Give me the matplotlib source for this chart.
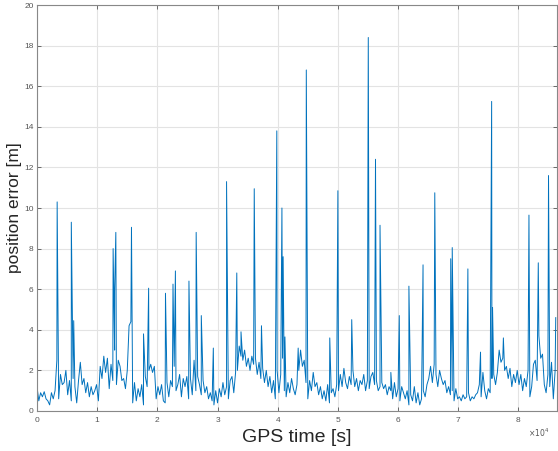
import numpy as np
import matplotlib
matplotlib.use("Agg")
import matplotlib.pyplot as plt
from matplotlib.ticker import FuncFormatter, MultipleLocator

plt.rcParams['font.family'] = ['Liberation Sans', 'DejaVu Sans']

# background error, one value every 300 s, one row per hour
step = 300
base_err = [
    1.2, 0.5, 0.9, 0.7, 0.95, 0.6, 0.5, 0.3, 0.9, 0.6, 1.0, 2.5,
    0.6, 1.8, 1.3, 1.4, 2.0, 0.8, 1.5, 0.5, 1.6, 1.2, 0.4, 1.5,
    2.4, 1.3, 1.6, 0.9, 1.4, 0.7, 1.2, 0.8, 1.0, 1.3, 0.5, 2.2,
    1.6, 2.7, 1.9, 2.6, 1.1, 2.3, 1.5, 3.0, 1.3, 2.5, 2.2, 1.5,
    1.6, 1.1, 2.0, 4.2, 4.4, 0.4, 1.4, 0.5, 1.1, 0.7, 1.3, 0.3,
    1.7, 1.2, 2.0, 2.3, 1.9, 2.2, 0.6, 1.2, 0.8, 1.3, 0.5, 0.4,
    1.4, 0.7, 1.5, 1.2, 2.2, 1.0, 1.3, 1.8, 0.7, 1.6, 1.2, 1.7,
    0.6, 1.6, 0.8, 2.5, 1.0, 1.7, 1.3, 0.8, 1.5, 0.9, 1.2, 0.6,
    0.9, 0.5, 0.3, 1.0, 0.4, 1.1, 0.7, 1.4, 0.8, 1.2, 0.6, 1.5,
    1.7, 0.9, 1.9, 2.0, 3.2, 2.7, 2.5, 3.0, 2.2, 2.6, 2.0, 2.7,
    2.3, 2.6, 1.8, 2.4, 1.6, 2.1, 1.4, 2.0, 1.2, 1.7, 0.9, 1.5,
    0.6, 2.0, 0.9, 1.8, 2.6, 1.0, 0.7, 1.4, 0.9, 1.6, 1.1, 0.8,
    1.3, 2.0, 3.0, 2.2, 2.5, 1.4, 0.6, 1.5, 1.0, 1.9, 1.2, 1.4,
    0.8, 1.2, 0.6, 1.0, 0.5, 1.3, 0.4, 0.9, 1.1, 0.7, 1.3, 1.0,
    1.8, 1.2, 2.1, 1.4, 1.1, 1.7, 1.3, 2.0, 1.2, 1.6, 1.0, 1.5,
    1.3, 1.8, 1.0, 1.5, 1.1, 1.7, 1.9, 1.3, 1.5, 1.0, 1.2, 1.4,
    1.1, 1.3, 0.8, 1.2, 1.0, 0.6, 1.4, 0.7, 1.1, 0.5, 1.2, 0.9,
    0.6, 1.0, 0.3, 0.8, 0.5, 1.2, 0.4, 0.9, 0.3, 0.6, 1.0, 0.7,
    1.3, 1.6, 2.2, 1.4, 2.3, 1.8, 1.2, 2.0, 1.6, 1.3, 1.5, 0.9,
    1.2, 0.8, 1.0, 0.5, 1.1, 0.6, 0.7, 0.5, 0.8, 0.6, 0.7, 0.9,
    0.5, 0.7, 0.6, 0.8, 0.9, 1.3, 0.7, 1.9, 1.0, 0.6, 1.1, 0.9,
    1.6, 1.8, 1.3, 1.9, 3.0, 2.4, 2.6, 2.0, 2.2, 1.6, 2.1, 1.2,
    1.8, 1.4, 2.0, 1.3, 1.8, 1.0, 1.6, 1.2, 2.0, 0.7, 1.2, 2.3,
    2.5, 1.5, 3.7, 2.6, 2.8, 1.3, 0.9, 1.8, 1.2, 2.4, 0.6, 2.0,
]

# isolated peaks: time [s] and error [m]
spike_t = [3350, 5700, 6100, 12650, 12900, 13100, 15700, 17700, 18550,
           21350, 22600, 23000, 25250, 26450, 27300, 29300, 31500, 33200,
           33900, 36100, 37300, 39850, 40700, 40900, 41200, 43400, 44750,
           48650, 50000, 52300, 55050, 56250, 57000, 58800, 60200, 61800,
           64150, 66100, 68750, 69000, 71600, 73700, 75550, 75700, 77500,
           81750, 83300, 85000, 86200]
spike_v = [10.3, 9.3, 4.45, 8.0, 5.9, 8.8, 9.05, 3.8, 6.05,
           5.8, 6.25, 6.9, 6.4, 8.8, 4.7, 3.1, 11.3, 6.8,
           3.9, 10.95, 4.2, 13.8, 10.0, 7.6, 3.65, 3.1, 16.8,
           3.6, 10.85, 4.5, 18.4, 12.4, 9.15, 1.9, 4.7, 6.15,
           7.2, 10.75, 7.5, 8.05, 7.0, 2.9, 15.25, 5.1, 3.6,
           9.65, 7.3, 11.6, 4.6]

t = np.concatenate([np.arange(len(base_err)) * step, spike_t])
err = np.concatenate([base_err, spike_v])
order = np.argsort(t, kind="stable")
t = t[order]
err = err[order]

fig = plt.figure(figsize=(5.58, 4.51), dpi=100)
ax = fig.add_axes([0.0663, 0.0887, 0.9318, 0.9002])
ax.plot(t, err, color="#0072BD", linewidth=0.7)

ax.set_xlim(0, 86400)
ax.set_ylim(0, 20)
ax.xaxis.set_major_locator(MultipleLocator(10000))
ax.yaxis.set_major_locator(MultipleLocator(2))
ax.xaxis.set_major_formatter(FuncFormatter(lambda v, p: f"{v/1e4:g}"))
ax.grid(True, color="#e3e3e3", linewidth=0.8)
ax.set_axisbelow(True)
ax.tick_params(direction="in", top=True, right=True, labelsize=6,
               colors="#555555", length=3, width=0.6)
ax.tick_params(axis="y", pad=2.5)
ax.tick_params(axis="x", pad=4)
for s in ax.spines.values():
    s.set_color("#888888")
    s.set_linewidth(0.8)

fig.text(297 / 558, 1 - 437 / 451, "GPS time [s]", fontsize=14,
         color="#262626", ha="center", va="center")
fig.text(15 / 558, 1 - 208 / 451, "position error [m]", fontsize=12.5,
         color="#262626", ha="center", va="center", rotation=90)
fig.text(0.985, 0.04, r"$\times10^{4}$", fontsize=5.5, color="#555555",
         ha="right", va="center")

fig.savefig("out.png", dpi=100)
